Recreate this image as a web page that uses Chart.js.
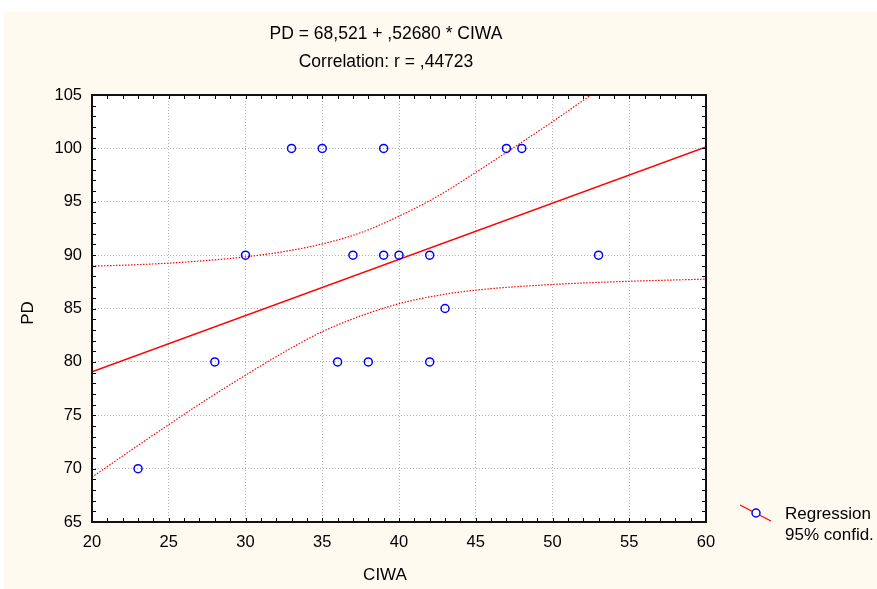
<!DOCTYPE html>
<html>
<head>
<meta charset="utf-8">
<script src="https://cdn.jsdelivr.net/npm/chart.js@4/dist/chart.umd.min.js"></script>
<style>
html,body{margin:0;padding:0;background:#ffffff;}
canvas{display:block;}
</style>
</head>
<body>
<canvas id="c" width="877" height="589"></canvas>
<script>
// ---- data ----
const titleLines = ["PD = 68,521 + ,52680 * CIWA", "Correlation: r = ,44723"];
const xLabel = "CIWA";
const yLabel = "PD";
const legendLabels = ["Regression", "95% confid."];

const ciwa = [23, 28, 30, 33, 35, 36, 37, 38, 39, 39, 40, 42, 42, 43, 47, 48, 53];
const pd   = [70, 80, 90, 100, 100, 80, 90, 80, 100, 90, 90, 90, 80, 85, 100, 100, 90];

const regX = [20, 60];
const regY = [79.06, 100.13];

const upperX = [20, 22.5, 25, 27.5, 30, 32.5, 35, 37.5, 40, 42.5, 45, 47.5, 50, 52.5];
const upperY = [88.97, 89.08, 89.25, 89.5, 89.84, 90.33, 91.05, 92.1, 93.65, 95.5, 97.75, 100.1, 102.5, 105.0];

const lowerX = [20, 22.5, 25, 27.5, 30, 32.5, 35, 37.5, 40, 42.5, 45, 50, 55, 60];
const lowerY = [69.2, 71.68, 74.12, 76.5, 78.75, 80.9, 82.83, 84.3, 85.45, 86.22, 86.72, 87.25, 87.55, 87.75];

const xTickValues = [20, 25, 30, 35, 40, 45, 50, 55, 60];
const yTickValues = [65, 70, 75, 80, 85, 90, 95, 100, 105];

// ---- styling ----
const FONT = "'Liberation Sans', Arial, sans-serif";
const RED = "#ff0000";
const BLUE = "#0000ff";
const CREAM = "#fffaf0";

function pts(xs, ys){ return xs.map((x,i)=>({x:x, y:ys[i]})); }

const decor = {
  id: 'decor',
  beforeDraw(chart){
    const ctx = chart.ctx;
    ctx.save();
    ctx.fillStyle = '#ffffff';
    ctx.fillRect(0,0,chart.width,chart.height);
    ctx.fillStyle = CREAM;
    ctx.fillRect(4,12,chart.width-4,chart.height-12);
    const a = chart.chartArea;
    ctx.fillStyle = '#ffffff';
    ctx.fillRect(a.left,a.top,a.right-a.left,a.bottom-a.top);
    ctx.restore();
  },
  afterDraw(chart){
    const ctx = chart.ctx;
    const a = chart.chartArea;
    const xs = chart.scales.x, ys = chart.scales.y;
    ctx.save();
    // minor/major tick marks, inside, all four sides
    ctx.strokeStyle = '#000';
    ctx.lineWidth = 1;
    ctx.beginPath();
    for (let v = xs.min; v <= xs.max; v += 1){
      const px = Math.round(xs.getPixelForValue(v)) + 0.5;
      ctx.moveTo(px, a.bottom); ctx.lineTo(px, a.bottom-4);
      ctx.moveTo(px, a.top); ctx.lineTo(px, a.top+4);
    }
    for (let v = ys.min; v <= ys.max; v += 1){
      const py = Math.round(ys.getPixelForValue(v)) + 0.5;
      ctx.moveTo(a.left, py); ctx.lineTo(a.left+4, py);
      ctx.moveTo(a.right, py); ctx.lineTo(a.right-4, py);
    }
    ctx.stroke();
    // frame
    ctx.strokeStyle = '#111';
    ctx.lineWidth = 2;
    ctx.strokeRect(a.left, a.top, a.right-a.left, a.bottom-a.top);

    // titles
    ctx.fillStyle = '#000';
    ctx.font = "17.5px " + FONT;
    ctx.textAlign = 'center';
    ctx.textBaseline = 'middle';
    ctx.fillText(titleLines[0], 386, 34);
    ctx.fillText(titleLines[1], 386, 62);
    // axis titles
    ctx.font = "17px " + FONT;
    ctx.fillText(xLabel, 385, 575);
    ctx.save();
    ctx.translate(28, 313);
    ctx.rotate(-Math.PI/2);
    ctx.fillText(yLabel, 0, 0);
    ctx.restore();

    // legend
    ctx.strokeStyle = RED;
    ctx.lineWidth = 1.2;
    ctx.beginPath();
    ctx.moveTo(740, 505); ctx.lineTo(771, 521);
    ctx.stroke();
    ctx.fillStyle = '#ffffff';
    ctx.strokeStyle = BLUE;
    ctx.lineWidth = 1.5;
    ctx.beginPath();
    ctx.arc(756, 513, 4, 0, Math.PI*2);
    ctx.fill();
    ctx.stroke();
    ctx.fillStyle = '#000';
    ctx.textAlign = 'left';
    ctx.font = "17px " + FONT;
    ctx.fillText(legendLabels[0], 785, 514);
    ctx.fillText(legendLabels[1], 785, 535);
    ctx.restore();
  }
};

new Chart(document.getElementById('c'), {
  type: 'scatter',
  data: {
    datasets: [
      {
        label: 'data',
        data: pts(ciwa, pd),
        showLine: false,
        pointStyle: 'circle',
        pointRadius: 4,
        pointBorderWidth: 1.5,
        pointBorderColor: BLUE,
        pointBackgroundColor: 'rgba(0,0,0,0)',
        order: 0
      },
      {
        label: 'Regression',
        data: pts(regX, regY),
        showLine: true,
        borderColor: RED,
        borderWidth: 1.5,
        pointRadius: 0,
        order: 1
      },
      {
        label: 'upper',
        data: pts(upperX, upperY),
        showLine: true,
        borderColor: RED,
        borderWidth: 1.2,
        borderDash: [1.5, 1.5],
        cubicInterpolationMode: 'monotone',
        pointRadius: 0,
        order: 2
      },
      {
        label: 'lower',
        data: pts(lowerX, lowerY),
        showLine: true,
        borderColor: RED,
        borderWidth: 1.2,
        borderDash: [1.5, 1.5],
        cubicInterpolationMode: 'monotone',
        pointRadius: 0,
        order: 3
      }
    ]
  },
  options: {
    responsive: false,
    animation: false,
    devicePixelRatio: 1,
    layout: { padding: { top: 95, right: 171, left: 0, bottom: 0 } },
    plugins: {
      legend: { display: false },
      title: { display: false },
      tooltip: { enabled: false }
    },
    scales: {
      x: {
        type: 'linear',
        min: 20, max: 60,
        afterBuildTicks: s => { s.ticks = xTickValues.map(v => ({value: v})); },
        afterFit: s => { s.height = 67; },
        border: { display: false, dash: [1, 2] },
        grid: { color: '#b0b0b0', lineWidth: 1, drawTicks: false },
        ticks: { color: '#000', padding: 11, font: { family: FONT, size: 16.5 }, maxRotation: 0 }
      },
      y: {
        type: 'linear',
        min: 65, max: 105,
        afterBuildTicks: s => { s.ticks = yTickValues.map(v => ({value: v})); },
        afterFit: s => { s.width = 92; },
        border: { display: false, dash: [1, 2] },
        grid: { color: '#b0b0b0', lineWidth: 1, drawTicks: false },
        ticks: { color: '#000', padding: 10, font: { family: FONT, size: 16.5 } }
      }
    }
  },
  plugins: [decor]
});
</script>
</body>
</html>
